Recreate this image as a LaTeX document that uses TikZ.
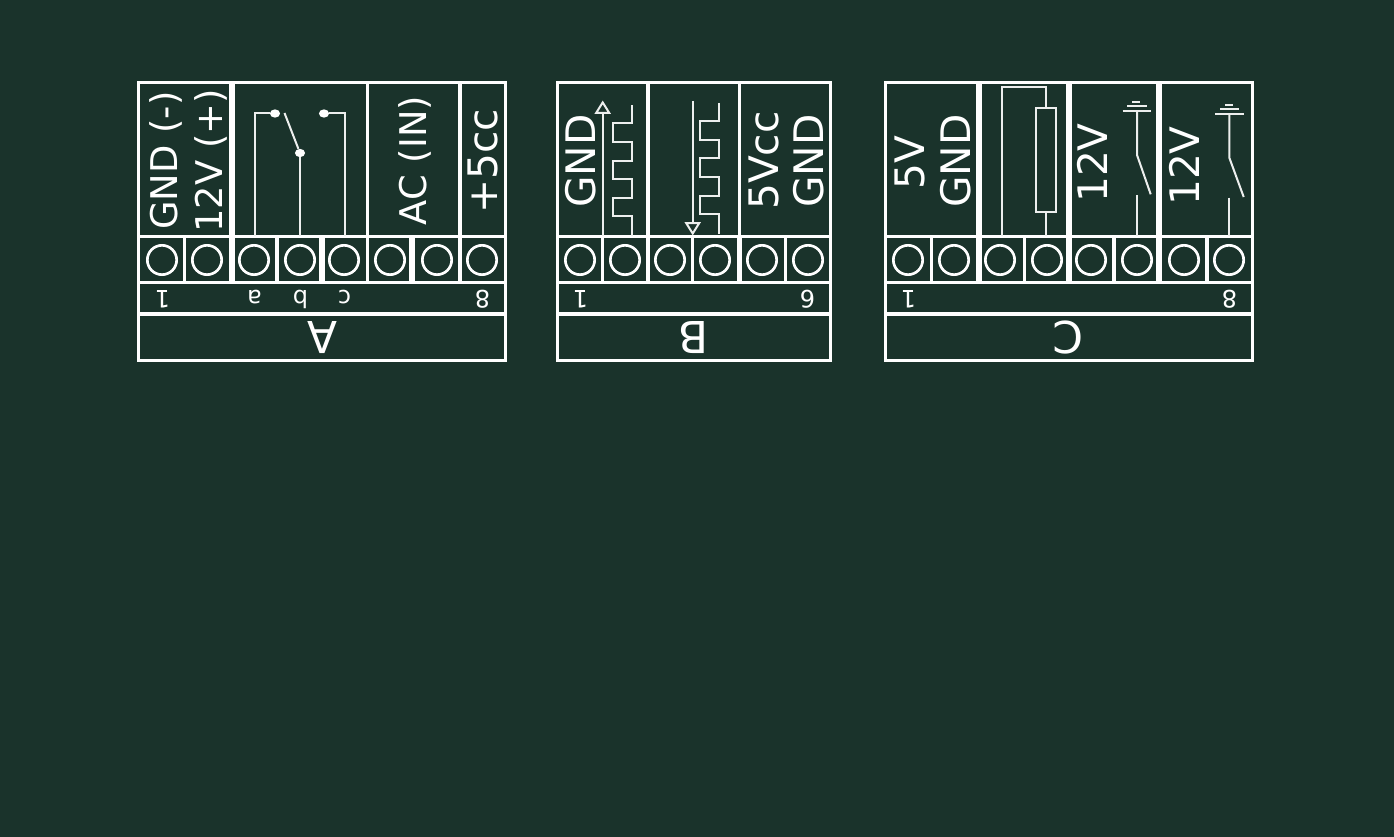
\documentclass[tikz,border=0pt]{standalone}
\usepackage{fontspec}
\setmainfont{DejaVu Sans}
\usepackage{tikz}
\usetikzlibrary{arrows.meta}
\usetikzlibrary{shapes.geometric}
\definecolor{boardbg}{RGB}{26,51,43}
\tikzset{boxline/.style={draw=white,line width=2.4pt}}
\tikzset{wire/.style={draw=white!92!boardbg,line width=1.5pt}}
\tikzset{hole/.style={circle,draw=white,line width=2pt,minimum size=22pt,inner sep=0pt}}
\tikzset{contact/.style={ellipse,fill=white,minimum width=7.6pt,minimum height=6.2pt,inner sep=0pt}}
\tikzset{vlabel/.style={text=white,rotate=90,anchor=base,inner sep=0pt,font=\fontsize{30.5}{30.5}\selectfont}}
\tikzset{vlong/.style={vlabel,font=\fontsize{27.6}{27.6}\selectfont}}
\tikzset{pinlabel/.style={text=white,rotate=180,anchor=base,inner sep=0pt,font=\fontsize{18}{18}\selectfont}}
\tikzset{boardname/.style={text=white,rotate=180,anchor=base,inner sep=0pt,font=\fontsize{33}{33}\selectfont}}
\tikzset{sigtip/.style={-{Triangle[open,length=10pt,width=12pt,fill=boardbg]}}}

\begin{document}
\begin{tikzpicture}[x=0.75pt,y=-0.75pt]
\fill[boardbg] (0,0) rectangle (1394,837);
\useasboundingbox (0,0) rectangle (1394,837);

% upper blocks
\foreach \l/\r in {138.5/230.5,233.5/367.3,367.3/460,460/505.3,
    557.3/647.2,648.8/739.3,739.3/830.7,
    885.7/977.5,980.8/1067.5,1070.8/1157.5,1160.8/1252.7}
    \draw[boxline] (\l,82.3) rectangle (\r,236.7);

% terminal cells
\foreach \l/\r in {138.5/184.3,184.3/230.5,233.5/277,277/320.2,323.5/367.3,367.3/410.2,413.5/460,460/505.3,
    557.3/602.5,602.5/647.2,648.8/692.8,692.8/738.2,740.2/785.3,785.3/830.7,
    885.7/931.7,931.7/977.5,980.8/1024.3,1024.3/1067.5,1070.8/1114,1114/1157.5,1160.8/1207,1207/1252.7}
    \draw[boxline] (\l,236.7) rectangle (\r,282.3);

% pin number and name rows
\foreach \l/\r in {138.5/505.3,557.3/830.7,885.7/1252.7}{
    \draw[boxline] (\l,282.3) rectangle (\r,314);
    \draw[boxline] (\l,314) rectangle (\r,360.7);
}

% holes
\foreach \x [count=\i] in {162,207,254,300,344,390,437,482}
    \node[hole] (A\i) at (\x,260){};
\foreach \x [count=\i] in {580,625,670,715,762,808}
    \node[hole] (B\i) at (\x,260){};
\foreach \x [count=\i] in {908,954,1000,1047,1091,1137,1184,1229}
    \node[hole] (C\i) at (\x,260){};

% board A
\node[vlong] (Agnd) at (177,160.5){GND (-)};
\node[vlong] (Apos) at (222,161){12V (+)};
\node[vlong] (Aac) at (426,160.5){AC (IN)};
\node[vlabel] (Avcc) at (497,161){+5cc};
\node[pinlabel] (Aone) at (162.5,290.5){1};
\node[pinlabel] (Aa) at (254.5,290.5){a};
\node[pinlabel] (Ab) at (300.5,290.5){b};
\node[pinlabel] (Ac) at (344.5,290.5){c};
\node[pinlabel] (Aeight) at (482.5,290.5){8};
\node[boardname] (Aname) at (322,322){A};

\node[contact] (Kno) at (275,113.5){};
\node[contact] (Knc) at (324,113.5){};
\node[contact] (Kcom) at (300,153){};
\coordinate (Kta) at (254.7,236);
\coordinate (Ktb) at (300,236);
\coordinate (Ktc) at (344.5,236);
\coordinate (Karm) at (284.5,113);
\draw[wire] (Kta) |- (Kno);
\draw[wire] (Ktb) -- (Kcom);
\draw[wire] (Ktc) |- (Knc);
\draw[wire] (Kcom) -- (Karm);

% board B
\node[vlabel] (Bgnd) at (595,161){GND};
\node[vlabel] (Bvcc) at (778,160.5){5Vcc};
\node[vlabel] (Bgndb) at (823,161){GND};
\node[pinlabel] (Bone) at (580.5,290.5){1};
\node[pinlabel] (Bsix) at (807.5,290.5){6};
\node[boardname] (Bname) at (693,322){B};

\coordinate (Sup) at (602.7,236);
\coordinate (Suptip) at (602.7,100.5);
\coordinate (Sdown) at (692.7,101);
\coordinate (Sdowntip) at (692.7,235.5);
\draw[wire,sigtip] (Sup) -- (Suptip);
\draw[wire,sigtip] (Sdown) -- (Sdowntip);
\draw[wire] (632.3,236) |- (613.3,216) |- (632.3,197.7) |- (613.3,179)
    |- (632.3,160.7) |- (613.3,141.7) |- (632.3,123.3) -- (632.3,105);
\draw[wire] (719,103) |- (700,121) |- (719,140) |- (700,158.3)
    |- (719,177.3) |- (700,195.7) |- (719,214.3) -- (719,234);

% board C
\node[vlabel] (Cfive) at (924,163){5V};
\node[vlabel] (Cgnd) at (970,161){GND};
\node[vlabel] (Cpa) at (1107,163){12V};
\node[vlabel] (Cpb) at (1199,166){12V};
\node[pinlabel] (Cone) at (908.5,290.5){1};
\node[pinlabel] (Ceight) at (1229.5,290.5){8};
\node[boardname] (Cname) at (1068,322){C};

\draw[wire] (1035.7,108.3) rectangle (1056,211.7);
\draw[wire] (1002,236) |- (1046,86.7) -- (1046,108.3);
\draw[wire] (1046,211.7) -- (1046,236);

\draw[wire] (1122.7,110.7) -- (1151,110.7);
\draw[wire] (1127.3,106.3) -- (1146.7,106.3);
\draw[wire] (1132.3,101.7) -- (1140.3,101.7);
\draw[wire] (1137,110.7) -- (1137,155) -- (1150.7,194.3);
\draw[wire] (1137,195) -- (1137,236);

\draw[wire] (1215,113.7) -- (1243.7,113.7);
\draw[wire] (1220,109) -- (1239.3,109);
\draw[wire] (1225,104.7) -- (1232.7,104.7);
\draw[wire] (1229.3,113.7) -- (1229.3,157.7) -- (1243.7,197);
\draw[wire] (1229.3,197.7) -- (1229.3,236);
\end{tikzpicture}
\end{document}
